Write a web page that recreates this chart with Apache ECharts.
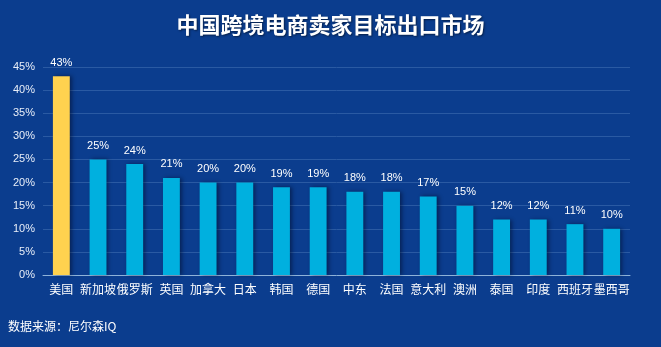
<!DOCTYPE html>
<html>
<head>
<meta charset="utf-8">
<script src="https://cdn.jsdelivr.net/npm/echarts@6/dist/echarts.min.js"></script>
<style>
  html, body { margin: 0; padding: 0; background: #0b3d8e; }
  #chart { width: 661px; height: 347px; }
</style>
</head>
<body>
<div id="chart"></div>
<script>
// 中国跨境电商卖家目标出口市场（%）
const markets = ['美国', '新加坡', '俄罗斯', '英国', '加拿大', '日本', '韩国', '德国', '中东', '法国', '意大利', '澳洲', '泰国', '印度', '西班牙', '墨西哥'];
const shares = [43, 25, 24, 21, 20, 20, 19, 19, 18, 18, 17, 15, 12, 12, 11, 10];
const highlightIndex = 0;

const chart = echarts.init(document.getElementById('chart'), null, { renderer: 'canvas' });

chart.setOption({
  backgroundColor: '#0b3d8e',
  animation: false,
  title: {
    text: '中国跨境电商卖家目标出口市场',
    left: 'center',
    top: 9,
    textStyle: {
      color: '#ffffff',
      fontSize: 22,
      fontWeight: 'bold',
      fontFamily: 'Noto Sans CJK SC',
      textShadowColor: 'rgba(0,0,0,0.5)',
      textShadowBlur: 2,
      textShadowOffsetX: 1,
      textShadowOffsetY: 1
    }
  },
  graphic: [{
    type: 'text',
    left: 8,
    top: 320,
    style: {
      text: '数据来源：尼尔森IQ',
      fill: '#ffffff',
      fontSize: 12,
      fontFamily: 'Noto Sans CJK SC'
    }
  }],
  grid: { left: 43, right: 31, top: 67, bottom: 72 },
  xAxis: {
    type: 'category',
    data: markets,
    axisLine: { lineStyle: { color: '#8fb3d9', width: 1 } },
    axisTick: { show: false },
    axisLabel: {
      color: '#ffffff',
      fontSize: 12,
      margin: 8,
      interval: 0,
      fontFamily: 'Noto Sans CJK SC'
    }
  },
  yAxis: {
    type: 'value',
    min: 0,
    max: 45,
    interval: 5,
    axisLine: { show: false },
    axisTick: { show: false },
    splitLine: { lineStyle: { color: '#2a5aa3', width: 1 } },
    axisLabel: {
      color: '#e8eef8',
      fontSize: 11,
      margin: 8,
      fontFamily: 'Liberation Sans',
      formatter: '{value}%'
    }
  },
  series: [{
    type: 'bar',
    barWidth: '46%',
    data: shares.map((v, i) => ({
      value: v,
      itemStyle: { color: i === highlightIndex ? '#ffd24f' : '#00b0df' }
    })),
    itemStyle: {
      shadowColor: 'rgba(0,0,20,0.45)',
      shadowBlur: 4,
      shadowOffsetX: 2,
      shadowOffsetY: 0
    },
    label: {
      show: true,
      position: 'top',
      distance: 8,
      color: '#ffffff',
      fontSize: 11,
      fontFamily: 'Liberation Sans',
      formatter: '{c}%'
    }
  }]
});
</script>
</body>
</html>
